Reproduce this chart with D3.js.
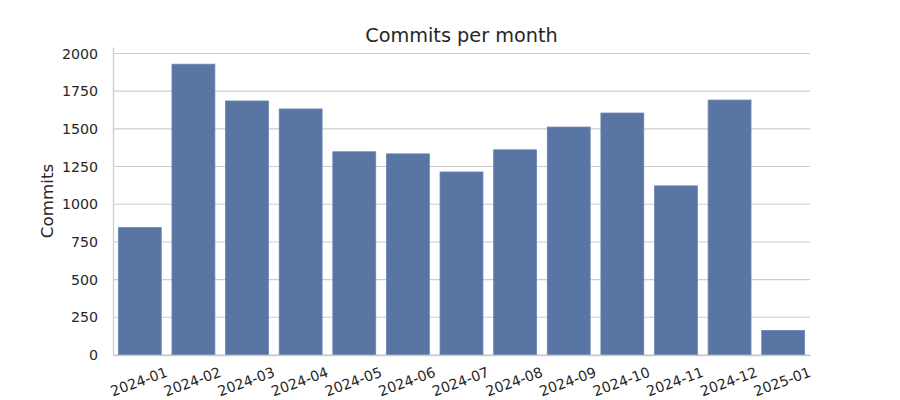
<!DOCTYPE html>
<html>
<head>
<meta charset="utf-8">
<script src="https://cdn.jsdelivr.net/npm/d3@7"></script>
<style>
  body { margin: 0; background: #fff; }
  svg text { font-family: "DejaVu Sans", sans-serif; fill: #262626; }
</style>
</head>
<body>
<div id="chart"></div>
<script>
var months = ["2024-01","2024-02","2024-03","2024-04","2024-05","2024-06","2024-07",
              "2024-08","2024-09","2024-10","2024-11","2024-12","2025-01"];
var commits = [845, 1929, 1685, 1632, 1348, 1334, 1214, 1361, 1512, 1605, 1122, 1691, 163];
var yTicks = [0, 250, 500, 750, 1000, 1250, 1500, 1750, 2000];

var margin = {top: 47, right: 90, bottom: 45, left: 113},
    width = 900 - margin.left - margin.right,
    height = 400 - margin.top - margin.bottom;

var svg = d3.select("#chart")
    .append("svg")
    .attr("width", 900)
    .attr("height", 400)
    .append("g")
    .attr("transform", "translate(" + margin.left + "," + margin.top + ")");

var x = d3.scaleBand()
    .domain(months)
    .range([0, width])
    .paddingInner(0.2)
    .paddingOuter(0.1);

var y = d3.scaleLinear()
    .domain([0, 2043])
    .range([height, 0]);

// grid
svg.append("g")
    .selectAll("line")
    .data(yTicks)
    .enter()
    .append("line")
      .attr("x1", 0)
      .attr("x2", width)
      .attr("y1", function(d) { return y(d); })
      .attr("y2", function(d) { return y(d); })
      .attr("stroke", "#cccccc")
      .attr("stroke-width", 1.1);

// bars
svg.selectAll("rect.bar")
    .data(commits)
    .enter()
    .append("rect")
      .attr("class", "bar")
      .attr("x", function(d, i) { return x(months[i]); })
      .attr("y", function(d) { return y(d); })
      .attr("width", x.bandwidth())
      .attr("height", function(d) { return height - y(d); })
      .attr("fill", "#5975a4")
      .attr("stroke", "#6a84b0")
      .attr("stroke-width", 0.8);

// y axis
var yAxis = svg.append("g")
    .call(d3.axisLeft(y).tickValues(yTicks).tickFormat(d3.format("d")).tickSize(0).tickPadding(15));
yAxis.select(".domain").attr("stroke", "#cccccc").attr("stroke-width", 1.3);
yAxis.selectAll("text").style("font-size", "14.2px").attr("fill", "#262626");

// x axis
var xAxis = svg.append("g")
    .attr("transform", "translate(0," + height + ")")
    .call(d3.axisBottom(x).tickSize(0).tickPadding(0).tickSizeOuter(0));
xAxis.select(".domain").attr("stroke", "#cccccc").attr("stroke-width", 1.3);
xAxis.selectAll("text")
    .style("font-size", "14.2px")
    .attr("fill", "#262626")
    .attr("y", 0)
    .attr("dy", "0.36em")
    .attr("text-anchor", "middle")
    .attr("transform", "translate(-1,26.5) rotate(-20)");

// y label
svg.append("text")
    .attr("transform", "rotate(-90)")
    .attr("x", -height / 2)
    .attr("y", -60)
    .attr("text-anchor", "middle")
    .style("font-size", "16.7px")
    .text("Commits");

// title
svg.append("text")
    .attr("x", width / 2)
    .attr("y", -4.7)
    .attr("text-anchor", "middle")
    .style("font-size", "19.3px")
    .text("Commits per month");
</script>
</body>
</html>
